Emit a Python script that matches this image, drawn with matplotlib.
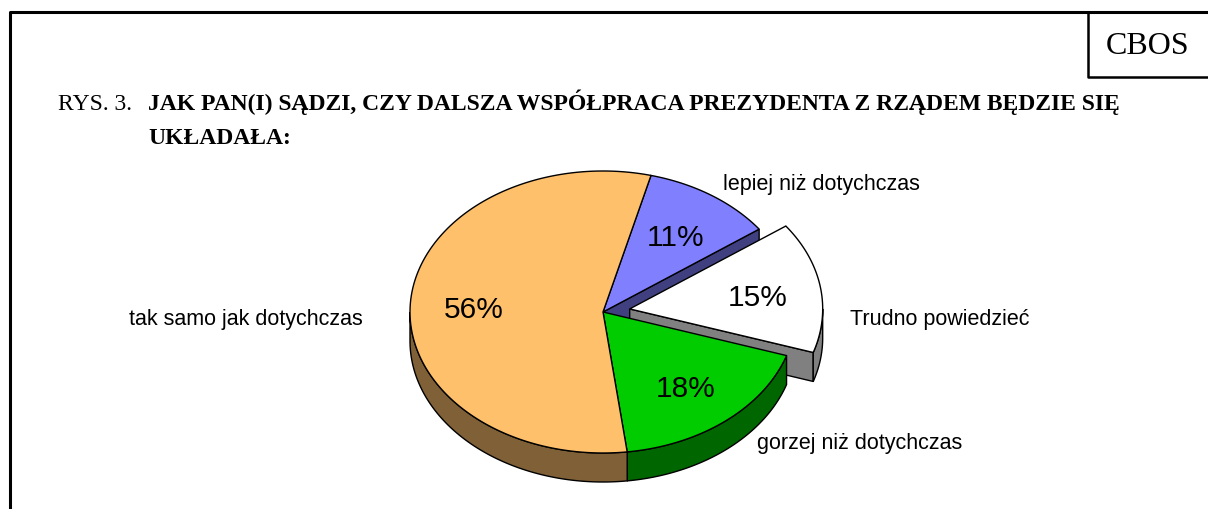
import numpy as np
import matplotlib
matplotlib.use("Agg")
import matplotlib.pyplot as plt
from matplotlib.patches import Polygon

# data (clockwise from the top)
labels = ["lepiej niż dotychczas", "Trudno powiedzieć", "gorzej niż dotychczas", "tak samo jak dotychczas"]
values = [11, 15, 18, 56]
explode = [0, 0.14, 0, 0]
top_colors = ["#8080FF", "#FFFFFF", "#00CC00", "#FFC06C"]
side_colors = ["#404080", "#808080", "#006600", "#806036"]

title_prefix = "RYS. 3."
title_line1 = "JAK PAN(I) SĄDZI, CZY DALSZA WSPÓŁPRACA PREZYDENTA Z RZĄDEM BĘDZIE SIĘ"
title_line2 = "UKŁADAŁA:"

# layout of the pie (pixels)
cx, cy = 603, 313
a, b = 193, 141
depth = 29
start = 75.6

# where the category labels go
label_pos = [(723, 185, "left"), (850, 320, "left"), (757, 444, "left"), (363, 320, "right")]

fig = plt.figure(figsize=(12.08, 5.10), dpi=100)
ax = fig.add_axes([0, 0, 1, 1])
ax.set_xlim(0, 1208)
ax.set_ylim(510, 0)
ax.axis("off")

# frame and CBOS box
ax.plot([10, 10, 1208], [510, 13, 13], color="black", lw=2.2, solid_capstyle="butt")
ax.plot([1088, 1088, 1208], [13, 78, 78], color="black", lw=1.8, solid_capstyle="butt")
ax.text(1148, 46, "CBOS", family="Liberation Serif", fontsize=23, ha="center", va="center")

ax.text(58, 110, title_prefix, family="Liberation Serif", fontsize=17, ha="left", va="baseline")
ax.text(148, 110, title_line1, family="Liberation Serif", fontsize=17, weight="bold", ha="left", va="baseline")
ax.text(148, 144, title_line2, family="Liberation Serif", fontsize=17, weight="bold", ha="left", va="baseline")


def pt(ox, oy, t, dz=0):
    r = np.radians(t)
    return ox + a * np.cos(r), oy - b * np.sin(r) + dz


# slice angles from the values (clockwise)
total = sum(values)
angles = []
ang = start
for v in values:
    span = 360.0 * v / total
    angles.append((ang - span, ang))
    ang -= span

centers = []
for (t0, t1), e in zip(angles, explode):
    mid = np.radians((t0 + t1) / 2)
    centers.append((cx + e * a * np.cos(mid), cy - e * b * np.sin(mid)))

walls = []
faces = []
for i, ((t0, t1), (ox, oy)) in enumerate(zip(angles, centers)):
    # outer wall, only the front half (180..360) is visible
    k = np.floor(t0 / 360) * 360
    lo, hi = t0 - k, t1 - k
    for s0, s1 in [(180, 360), (540, 720)]:
        w0, w1 = max(lo, s0), min(hi, s1)
        if w1 > w0:
            ts = np.linspace(w0, w1, 80)
            upper = [pt(ox, oy, t) for t in ts]
            lower = [pt(ox, oy, t, depth) for t in ts[::-1]]
            walls.append(Polygon(upper + lower, closed=True, fc=side_colors[i], ec="black", lw=1))
    # cut faces next to the exploded slice
    if explode[i] > 0 or (i + 1 < len(values) and explode[i + 1] > 0):
        p = pt(ox, oy, t0)
        faces.append(Polygon([(ox, oy), p, (p[0], p[1] + depth), (ox, oy + depth)],
                             closed=True, fc=side_colors[i], ec="black", lw=1))

for f in faces:
    ax.add_patch(f)
for w in walls:
    ax.add_patch(w)

for i, ((t0, t1), (ox, oy)) in enumerate(zip(angles, centers)):
    ts = np.linspace(t0, t1, 200)
    poly = [(ox, oy)] + [pt(ox, oy, t) for t in ts]
    ax.add_patch(Polygon(poly, closed=True, fc=top_colors[i], ec="black", lw=1))
    mid = np.radians((t0 + t1) / 2)
    f = 0.67
    ax.text(ox + f * a * np.cos(mid), oy - f * b * np.sin(mid) + 3, f"{values[i]}%",
            family="Liberation Sans", fontsize=21.5, ha="center", va="center")

for lab, (x, y, ha) in zip(labels, label_pos):
    ax.text(x, y, lab, family="Liberation Sans", fontsize=15.5, ha=ha, va="center")

fig.savefig("out.png", dpi=100)
